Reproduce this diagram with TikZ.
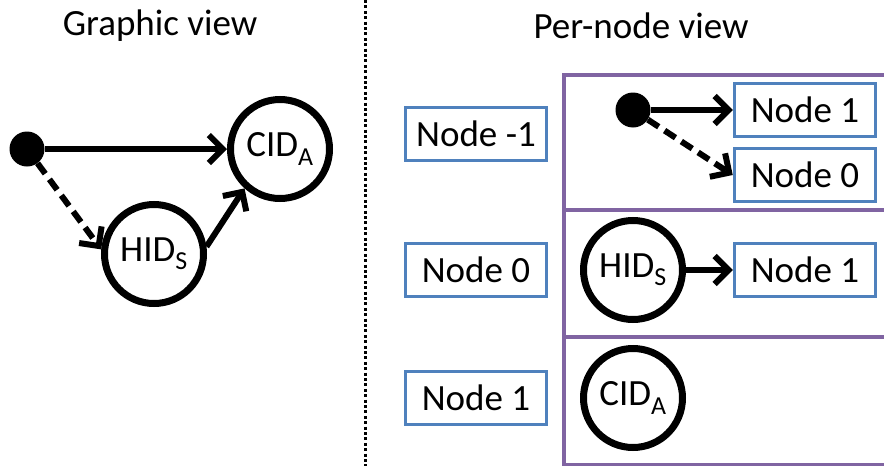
\documentclass[tikz,border=0pt]{standalone}
\usepackage{fontspec}
\setmainfont{Carlito}
\usetikzlibrary{calc,arrows.meta}

\definecolor{boxblue}{HTML}{4F81BD}
\definecolor{rowpurple}{HTML}{8064A2}

\tikzset{
    state/.style={circle, draw=black, line width=7pt, minimum size=99pt, inner sep=0pt},
    start/.style={circle, fill=black, minimum size=35pt, inner sep=0pt},
    nodebox/.style={rectangle, draw=boxblue, line width=3.5pt, minimum width=141pt, minimum height=53pt, inner sep=0pt},
    link/.style={line width=6pt, -{Straight Barb[length=14pt,width=28pt]}},
    maybe/.style={link, dash pattern=on 13pt off 7pt}
}

\begin{document}
\begin{tikzpicture}[x=1pt, y=-1pt, font=\fontsize{37pt}{44pt}\selectfont]
    \useasboundingbox (0,0) rectangle (884,466);
    
    % graphic view
    \node (gtitle) at (160,26) {Graphic view};
    
    \node[start] (gdot) at (27,149) {};
    
    \node[state] (cidA) at ($(gdot) + (253, 0)$) {CID\textsubscript{A}};
    
    \node[state] (hidS) at ($(gdot) + (127, 105)$) {HID\textsubscript{S}};
    
    \draw[link] (gdot) -- (cidA);
    \draw[maybe] (gdot) -- (hidS.175);
    \draw[link] (hidS.8) -- (cidA.228);
    
    \draw[line width=3pt, dash pattern=on 3pt off 2.4pt] (365,0) -- (365,466);
    
    % per-node view
    \node (ptitle) at (641,26) {Per-node view};
    
    \draw[rowpurple, line width=3.5pt] (884,75) -- (564,75) -- (564,465) -- (884,465);
    \draw[rowpurple, line width=3.5pt] (564,210) -- (884,210);
    \draw[rowpurple, line width=3.5pt] (564,337) -- (884,337);
    
    \node[nodebox] (lblA) at (476,134) {Node -1};
    
    \node[nodebox] (lblB) at ($(lblA) + (0, 136)$) {Node 0};
    
    \node[nodebox] (lblC) at ($(lblA) + (0, 264)$) {Node 1};
    
    \node[start] (rdot) at (633,110) {};
    
    \node[nodebox] (rnodeA) at ($(rdot) + (172, 0)$) {Node 1};
    
    \node[nodebox] (rnodeB) at ($(rdot) + (172, 65)$) {Node 0};
    
    \node[state] (rhid) at ($(rdot) + (0, 160)$) {HID\textsubscript{S}};
    
    \node[nodebox] (rnodeC) at ($(rdot) + (172, 160)$) {Node 1};
    
    \node[state] (rcid) at ($(rdot) + (0, 288)$) {CID\textsubscript{A}};
    
    \draw[link] (rdot) -- (rnodeA);
    \draw[maybe] (rdot) -- (rnodeB.west);
    \draw[link] (rhid) -- (rnodeC);
    
\end{tikzpicture}
\end{document}
